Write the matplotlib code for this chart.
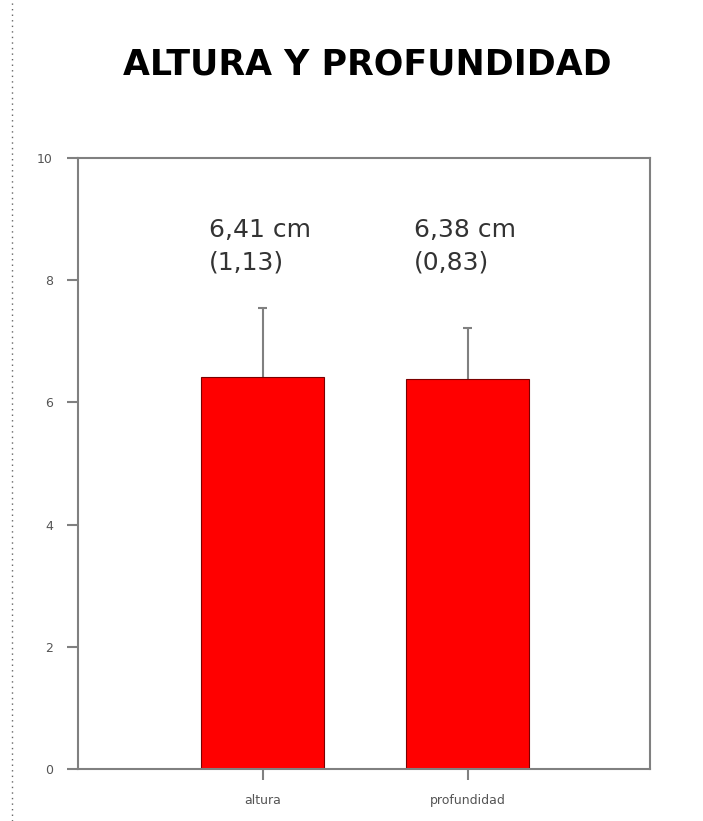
import numpy as np
import matplotlib.pyplot as plt
from matplotlib.lines import Line2D

# Place for data
categories = ["altura", "profundidad"]
means = [6.41, 6.38]
sds = [1.13, 0.83]
top_labels = ["6,41 cm\n(1,13)", "6,38 cm\n(0,83)"]
yticks = [0, 2, 4, 6, 8, 10]

fig = plt.figure(figsize=(7.03, 8.21), dpi=100)
ax = fig.add_axes([0.111, 0.0633, 0.8137, 0.7443])

x = np.arange(len(categories))
ax.bar(x, means, width=0.6, color="#ff0000", edgecolor="#7a0000", linewidth=0.8, zorder=2)
# only the upper half of the error bar is shown
tops = np.array(means) + np.array(sds)
ax.vlines(x, means, tops, color="#808080", linewidth=1.5, zorder=1)
ax.hlines(tops, x - 0.02, x + 0.02, color="#808080", linewidth=1.5, zorder=1)

for xi, txt in zip(x, top_labels):
    ax.text(xi - 0.26, 8.1, txt, ha="left", va="bottom", fontsize=18,
            color="#333333", linespacing=1.45)

ax.set_xlim(-0.9, 1.89)
ax.set_ylim(0, 10)
ax.set_yticks(yticks)
ax.set_yticklabels([str(t) for t in yticks])
ax.set_xticks(x)
ax.set_xticklabels(categories)

for s in ax.spines.values():
    s.set_color("#808080")
    s.set_linewidth(1.5)
ax.tick_params(axis="both", colors="#808080", width=1.5, length=8, labelsize=9,
               labelcolor="#555555")
ax.tick_params(axis="y", pad=10)
ax.tick_params(axis="x", pad=10)

fig.text(0.523, 0.921, "ALTURA Y PROFUNDIDAD", ha="center", va="center",
         fontsize=25, fontweight="bold", color="black")

# dotted border at left
fig.add_artist(Line2D([0.017, 0.017], [0, 1], transform=fig.transFigure,
                      color="#666666", linestyle=(0, (1, 3)), linewidth=1))

fig.savefig("out.png", dpi=100)
